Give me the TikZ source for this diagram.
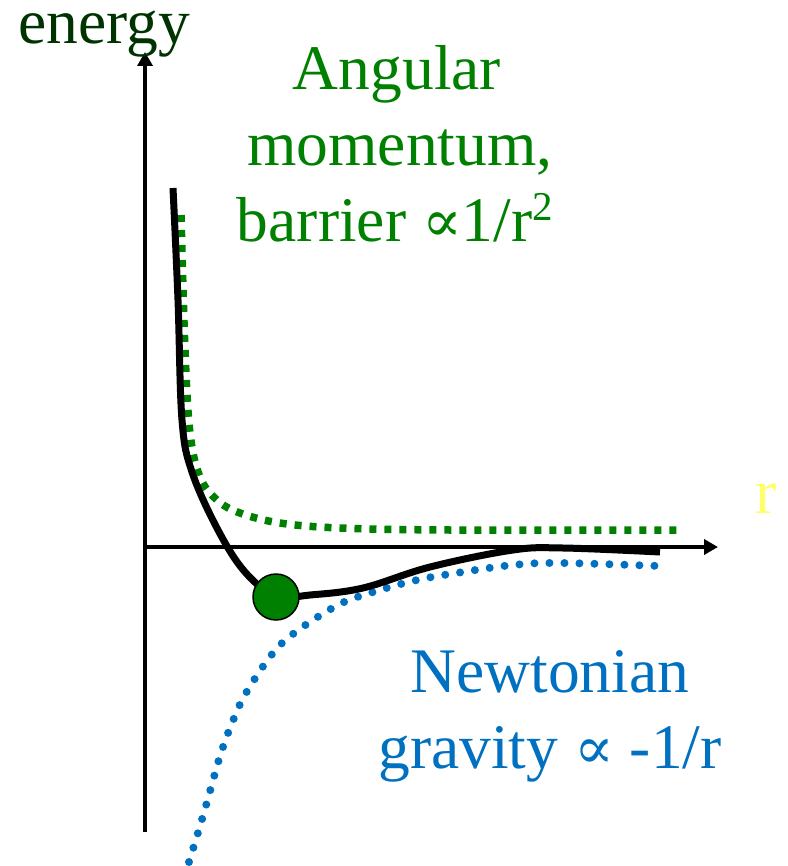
\documentclass[tikz,border=0pt]{standalone}
\usepackage{fontspec}
\setmainfont{Liberation Serif}
\newfontfamily\propfont{DejaVu Serif}
\usetikzlibrary{arrows.meta}
\definecolor{egreen}{HTML}{003300}
\definecolor{tgreen}{HTML}{008000}
\definecolor{tblue}{HTML}{0070C0}
\definecolor{ryellow}{HTML}{FFFF66}
\newcommand{\propsym}{{\propfont\fontsize{59}{70}\selectfont ∝}}
\newcommand{\supertwo}{\raisebox{0.75ex}{\fontsize{41}{41}\selectfont 2}}
\begin{document}
\begin{tikzpicture}[x=1pt,y=-1pt,
  axis/.style={line width=4pt,-{Triangle[length=14pt,width=15pt]}},
  lbl/.style={font=\fontsize{63.5}{76}\selectfont, inner sep=0pt, anchor=base},
  effcurve/.style={line width=7pt, black},
  barriercurve/.style={line width=7.5pt, tgreen, dash pattern=on 7pt off 8pt},
  gravcurve/.style={line width=8pt, tblue, line cap=round, dash pattern=on 0pt off 15pt},
  ball/.style={circle, fill=tgreen, draw=black, line width=1.5pt, minimum size=46pt, inner sep=0pt}]
\useasboundingbox (0,0) rectangle (787,866);
\coordinate (O) at (145,547);
\coordinate (ytop) at (145,52);
\coordinate (ybot) at (145,832);
\coordinate (xend) at (718,547);
\draw[axis] (ybot) -- (ytop);
\draw[axis] (O) -- (xend);
\draw[barriercurve] plot[smooth, tension=0.6] coordinates {(181,215) (185,350) (190,433) (200,477) (217,500) (240,513) (280,523) (340,528) (450,530) (677,530)};
\draw[gravcurve] plot[smooth, tension=0.6] coordinates {(189,862) (203,816) (212,784) (221,753) (232,723) (246,693) (273,653) (297,631) (338,605) (370,593) (417,580) (463,572) (513,565) (560,563) (660,566)};
\draw[effcurve] plot[smooth, tension=0.6] coordinates {(173,188) (178,300) (182,420) (192,472) (218,530) (245,572) (276,596) (310,595) (363,588) (430,567) (513,550) (563,548) (660,552)};
\node[ball] (dot) at (276,597) {};
\node[lbl, text=egreen, text height=0.5em] (energy) at (104,44) {energy};
\node[lbl, text=tgreen] (ang1) at (397,90) {Angular};
\node[lbl, text=tgreen] (ang2) at (400,166) {momentum,};
\node[lbl, text=tgreen] (ang3) at (395,242) {barrier \propsym1/r\supertwo};
\node[lbl, text=ryellow] (rlab) at (766,513) {r};
\node[lbl, text=tblue] (newt1) at (550,692) {Newtonian};
\node[lbl, text=tblue] (newt2) at (550,768) {gravity \propsym\ -1/r};
\end{tikzpicture}
\end{document}
